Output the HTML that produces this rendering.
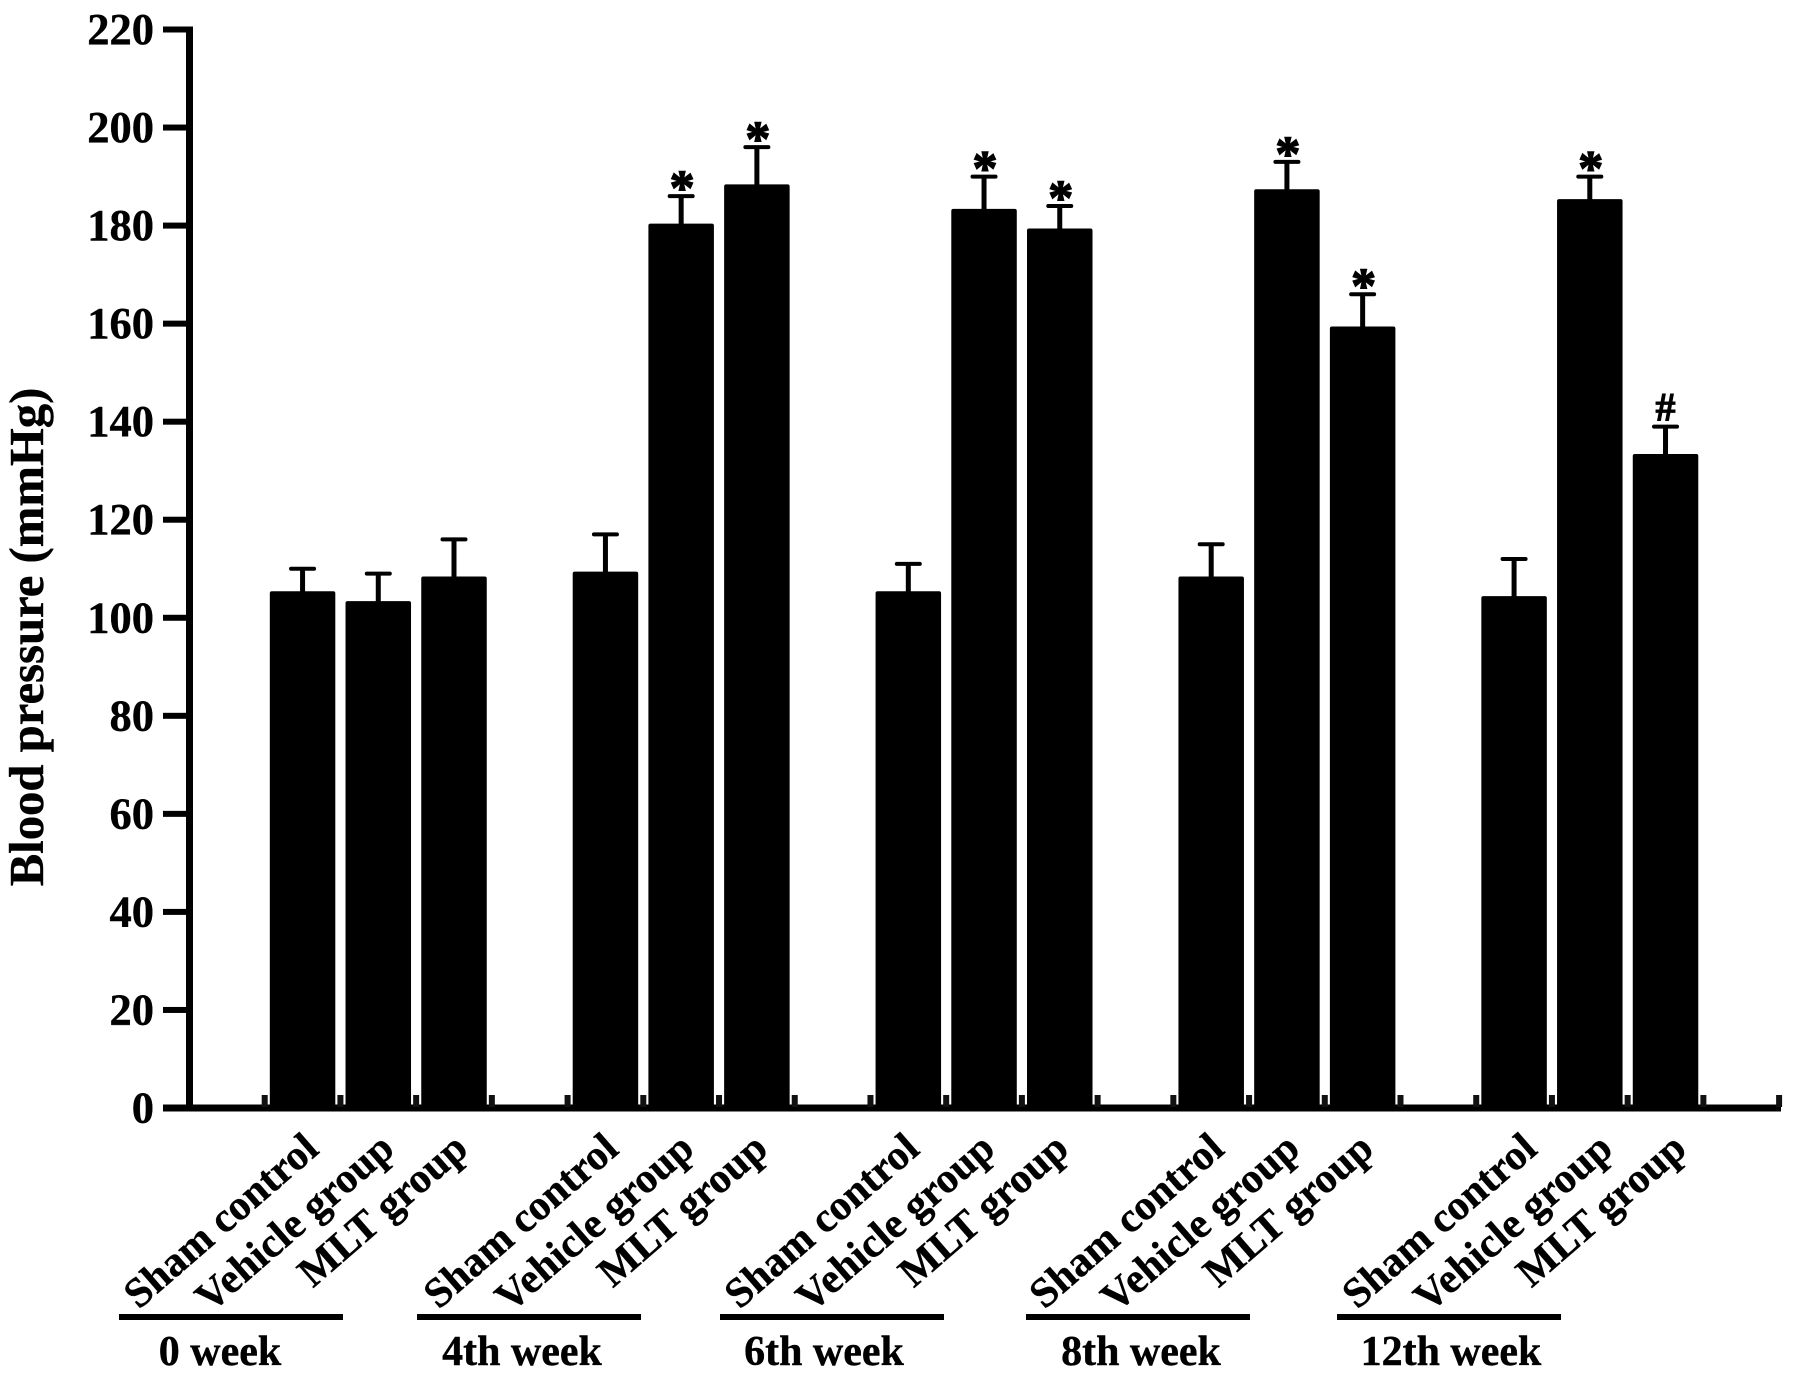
<!DOCTYPE html>
<html lang="en">
<head>
<meta charset="utf-8">
<title>Blood pressure bar chart</title>
<style>
html,body{margin:0;padding:0;background:#fff;}
svg{display:block;}
text{font-family:"Liberation Serif",serif;font-weight:bold;fill:#000;stroke:#000;stroke-width:0.4px;}
</style>
</head>
<body>
<svg id="chart" xmlns="http://www.w3.org/2000/svg" width="1795" height="1376" viewBox="0 0 1795 1376">
<rect x="0" y="0" width="1795" height="1376" fill="#fff"/>
<text transform="translate(43,637) rotate(-90)" text-anchor="middle" font-size="48.7">Blood pressure (mmHg)</text>
</svg>
<script>
const weeks = ['0 week', '4th week', '6th week', '8th week', '12th week'];
const groups = ['Sham control', 'Vehicle group', 'MLT group'];
const shamValues = [105, 109, 105, 108, 104];
const vehicleValues = [103, 180, 183, 187, 185];
const mltValues = [108, 188, 179, 159, 133];
const shamErrorTops = [110, 117, 111, 115, 112];
const vehicleErrorTops = [109, 186, 190, 193, 190];
const mltErrorTops = [116, 196, 184, 166, 139];
const vehicleMarks = ['', '*', '*', '*', '*'];
const mltMarks = ['', '*', '*', '*', '#'];
const yTicks = [0, 20, 40, 60, 80, 100, 120, 140, 160, 180, 200, 220];

const svg = document.getElementById('chart');
const NS = 'http://www.w3.org/2000/svg';
const y0 = 1108, y220 = 29.5;
const slotStart = 264.7, slotWidth = 75.72, barWidth = 65.5, barOutset = 2;
function yScale(v) { return y0 - (v / 220) * (y0 - y220); }
function slotEdge(i) { return slotStart + slotWidth * i; }
function barCenter(g, s) { return slotEdge(g * 4 + s) + slotWidth / 2; }
function make(tag, attrs, text) {
  const el = document.createElementNS(NS, tag);
  for (const k in attrs) el.setAttribute(k, attrs[k]);
  if (text !== undefined) el.textContent = text;
  svg.appendChild(el);
  return el;
}

/* bars, error bars, significance marks */
const seriesValues = [shamValues, vehicleValues, mltValues];
const seriesTops = [shamErrorTops, vehicleErrorTops, mltErrorTops];
const seriesMarks = [weeks.map(() => ''), vehicleMarks, mltMarks];
const seriesKeys = ['sham', 'vehicle', 'mlt'];
weeks.forEach((w, g) => {
  groups.forEach((name, s) => {
    const cx = barCenter(g, s);
    const top = yScale(seriesValues[s][g]) - barOutset;
    const errY = yScale(seriesTops[s][g]);
    const stem = make('rect', { x: cx - 2.5, y: errY, width: 5, height: top - errY + 2, fill: '#000' });
    
    
    const cap = make('rect', { x: cx - 13.5, y: errY - 2, width: 27, height: 4, rx: 2, fill: '#000' });
    
    
    const bar = make('rect', { x: cx - barWidth / 2, y: top, width: barWidth, height: y0 - top, rx: 2, fill: '#000' });
    
    
    const mark = seriesMarks[s][g];
    if (mark === '*') {
      const star = make('text', { x: cx + 1, y: errY + 8, 'text-anchor': 'middle', 'font-size': 50, style: 'stroke-width:1.4px' }, mark);
      
      
    } else if (mark === '#') {
      const hash = make('text', { x: cx, y: errY - 6, 'text-anchor': 'middle', 'font-size': 40, style: 'stroke-width:1px' }, mark);
      
      
    }
  });
});

/* x axis */
const xAxis = make('rect', { x: 163, y: y0 - 3.5, width: 1618, height: 7, fill: '#000' });


for (let i = 0; i <= 20; i++) {
  const t = make('rect', { x: slotEdge(i) - 3, y: y0 - 13, width: 6, height: 12, fill: '#111' });
  
  
}

/* y axis */
const yAxis = make('rect', { x: 186, y: y220 - 3, width: 7, height: y0 - y220 + 6, fill: '#000' });


yTicks.forEach(v => {
  const t = make('rect', { x: 163, y: yScale(v) - 3, width: 24, height: 6, fill: '#000' });
  
  
  const l = make('text', { x: 154, y: yScale(v) + 14.5, 'text-anchor': 'end', 'font-size': 44.5 }, String(v));
  
  
});

/* rotated labels, group rules and week captions (layout offsets only) */
const labelDrift = [0, -3, -5, -3, 7];
const ruleStart = [119, 417, 720, 1026, 1337];
const captionCenter = [220, 522, 824, 1141, 1451];
const ruleWidth = 224;
weeks.forEach((w, g) => {
  groups.forEach((name, s) => {
    const x = barCenter(g, s) + 18 + labelDrift[g] + (s === 2 ? -2 : 0);
    const lab = make('text', { transform: 'translate(' + x + ',1152) rotate(-41)', 'text-anchor': 'end', 'font-size': 42 }, name);
    
    
  });
  const rule = make('rect', { x: ruleStart[g], y: 1314, width: ruleWidth, height: 6, fill: '#000' });
  
  
  const cap = make('text', { x: captionCenter[g], y: 1365, 'text-anchor': 'middle', 'font-size': 42 }, w);
  
  
});
</script>
</body>
</html>
